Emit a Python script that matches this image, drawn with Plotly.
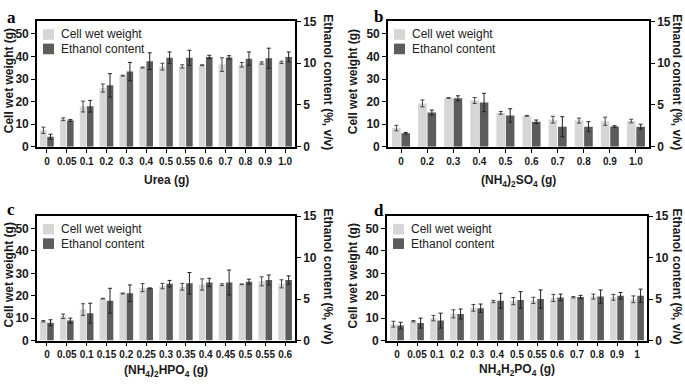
import plotly.graph_objects as go

# ---------------- data ----------------
cats_a = ["0", "0.05", "0.1", "0.2", "0.3", "0.4", "0.5", "0.55", "0.6", "0.7", "0.8", "0.9", "1.0"]
cell_a = [7.3, 12.2, 17.8, 26.0, 31.5, 35.1, 35.5, 35.6, 36.1, 36.4, 36.3, 37.1, 37.4]
cell_a_err = [1.4, 0.6, 2.4, 1.8, 0.2, 0.2, 1.5, 0.7, 0.2, 3.0, 1.0, 0.5, 0.5]
eth_a = [1.2, 3.15, 4.85, 7.35, 9.0, 10.25, 10.65, 10.65, 10.75, 10.7, 10.55, 10.6, 10.75]
eth_a_err = [0.3, 0.1, 0.7, 1.4, 1.1, 1.0, 0.7, 0.9, 0.2, 0.2, 0.8, 1.2, 0.6]

cats_b = ["0", "0.2", "0.3", "0.4", "0.5", "0.6", "0.7", "0.8", "0.9", "1.0"]
cell_b = [8.3, 19.2, 21.6, 20.5, 15.0, 13.7, 12.0, 11.6, 11.3, 11.4]
cell_b_err = [1.2, 1.5, 0.15, 1.3, 0.6, 0.2, 1.5, 1.1, 1.8, 0.8]
eth_b = [1.62, 4.1, 5.8, 5.3, 3.75, 3.0, 2.4, 2.4, 2.42, 2.4]
eth_b_err = [0.1, 0.3, 0.3, 1.1, 0.8, 0.2, 1.2, 0.6, 0.1, 0.3]

cats_c = ["0", "0.05", "0.1", "0.15", "0.2", "0.25", "0.3", "0.35", "0.4", "0.45", "0.5", "0.55", "0.6"]
cell_c = [8.6, 10.8, 13.8, 18.7, 21.0, 23.6, 24.3, 24.0, 25.0, 24.9, 25.1, 26.4, 25.3]
cell_c_err = [0.3, 1.0, 2.6, 0.15, 0.2, 1.8, 1.2, 1.5, 2.5, 0.4, 0.15, 2.0, 1.8]
eth_c = [2.15, 2.4, 3.3, 4.8, 5.7, 6.3, 6.85, 6.9, 7.0, 7.0, 7.1, 7.3, 7.3]
eth_c_err = [0.35, 0.3, 1.2, 1.5, 1.0, 0.05, 0.4, 1.3, 0.5, 1.5, 0.3, 0.6, 0.5]

cats_d = ["0", "0.05", "0.1", "0.2", "0.3", "0.4", "0.5", "0.55", "0.6", "0.7", "0.8", "0.9", "1"]
cell_d = [7.3, 8.6, 10.0, 11.9, 14.6, 17.4, 17.6, 17.9, 19.0, 19.3, 19.6, 19.3, 18.4]
cell_d_err = [1.3, 0.3, 1.2, 1.8, 1.5, 0.5, 1.6, 1.4, 1.6, 0.3, 1.1, 1.3, 1.5]
eth_d = [1.8, 2.1, 2.4, 3.2, 3.9, 4.8, 4.9, 5.0, 5.2, 5.25, 5.3, 5.4, 5.4]
eth_d_err = [0.4, 0.6, 0.9, 0.6, 0.5, 0.9, 1.0, 1.1, 0.4, 0.2, 0.8, 0.4, 0.8]

x_titles = ["Urea (g)",
            "(NH<sub>4</sub>)<sub>2</sub>SO<sub>4</sub> (g)",
            "(NH<sub>4</sub>)<sub>2</sub>HPO<sub>4</sub> (g)",
            "NH<sub>4</sub>H<sub>2</sub>PO<sub>4</sub> (g)"]
panel_letters = ["a", "b", "c", "d"]
left_title = "Cell wet weight (g)"
right_title = "Ethanol content (%, v/v)"
legend_names = ["Cell wet weight", "Ethanol content"]

# ---------------- style ----------------
W, H = 685, 388
LIGHT = "#d6d6d6"
DARK = "#5c5c5c"
FONT = "Liberation Sans, Arial, sans-serif"
TXT = "#1a1a1a"

# panel boxes in pixels: (x0, x1, ytop, ybottom)
boxes = [(37, 295, 15, 145), (388, 649, 15, 145), (37, 295, 217, 346), (387, 647, 217, 346)]
xtitle_y = [179, 180, 378, 377]
ltitle_x = [9, 353, 9, 353]
rtitle_x = [328, 677, 328, 677]
letter_pos = [(11, 11), (378, 10), (11, 210), (379, 211)]

def px(x):
    return x / W

def py(y):
    return 1 - y / H

panels = [
    (cats_a, cell_a, cell_a_err, eth_a, eth_a_err),
    (cats_b, cell_b, cell_b_err, eth_b, eth_b_err),
    (cats_c, cell_c, cell_c_err, eth_c, eth_c_err),
    (cats_d, cell_d, cell_d_err, eth_d, eth_d_err),
]

fig = go.Figure()
layout = dict(width=W, height=H, autosize=False, margin=dict(l=0, r=0, t=0, b=0),
              paper_bgcolor="white", plot_bgcolor="white", showlegend=False,
              font=dict(family=FONT, color=TXT))
annotations = []
shapes = []

tickfont_b = dict(size=12, family=FONT, color=TXT, weight=700)

for i, (cats, cell, cell_err, eth, eth_err) in enumerate(panels):
    k = i + 1
    xa = "x" if k == 1 else f"x{k}"
    ya = f"y{2 * k - 1}" if k > 1 else "y"
    yb = f"y{2 * k}"
    x0, x1, yt, ybt = boxes[i]

    fig.add_trace(go.Bar(
        x=cats, y=cell, name=legend_names[0], xaxis=xa, yaxis=ya,
        marker=dict(color=LIGHT, line=dict(width=0)),
        width=0.33, offset=-0.345,
        error_y=dict(type="data", array=cell_err, visible=True, color="#444", thickness=1, width=2)))
    fig.add_trace(go.Bar(
        x=cats, y=eth, name=legend_names[1], xaxis=xa, yaxis=yb,
        marker=dict(color=DARK, line=dict(width=0)),
        width=0.33, offset=0.015,
        error_y=dict(type="data", array=eth_err, visible=True, color="#222", thickness=1, width=2)))

    xkey = "xaxis" if k == 1 else f"xaxis{k}"
    yakey = "yaxis" if k == 1 else f"yaxis{2 * k - 1}"
    ybkey = f"yaxis{2 * k}"
    layout[xkey] = dict(
        domain=[px(x0), px(x1)], anchor=ya, type="category",
        range=[-0.5, len(cats) - 0.5], showline=True, linecolor="black", linewidth=1.6,
        mirror=True, ticks="outside", ticklen=4, tickwidth=1.4, tickcolor="black",
        tickangle=0, tickfont=dict(size=10, family=FONT, color=TXT, weight=700),
        showgrid=False)
    layout[yakey] = dict(
        domain=[py(ybt), py(yt)], anchor=xa, range=[0, 55.5],
        tickvals=[0, 10, 20, 30, 40, 50], showline=True, linecolor="black", linewidth=1.6,
        ticks="outside", ticklen=4, tickwidth=1.4, tickcolor="black",
        tickfont=tickfont_b, showgrid=False, zeroline=False)
    layout[ybkey] = dict(
        overlaying=ya, side="right", anchor=xa, range=[0, 15],
        tickvals=[0, 5, 10, 15], showline=True, linecolor="black", linewidth=1.6,
        ticks="outside", ticklen=4, tickwidth=1.4, tickcolor="black",
        tickfont=tickfont_b, showgrid=False, zeroline=False)

    # legend (swatches + labels)
    for j, (name, col) in enumerate(zip(legend_names, [LIGHT, DARK])):
        sy = yt + 8 + 15 * j
        shapes.append(dict(type="rect", xref="paper", yref="paper",
                           x0=px(x0 + 6), x1=px(x0 + 17), y0=py(sy + 11), y1=py(sy),
                           fillcolor=col, line=dict(width=0)))
        annotations.append(dict(
            text=name, x=px(x0 + 22), y=py(sy + 5.5), xref="paper", yref="paper",
            showarrow=False, xanchor="left", yanchor="middle",
            font=dict(size=12, family=FONT, color="#222")))

    # titles
    annotations.append(dict(
        text=left_title, x=px(ltitle_x[i]), y=py((yt + ybt) / 2 - 3),
        xref="paper", yref="paper", showarrow=False, textangle=-90,
        font=dict(size=12, family=FONT, color=TXT, weight=700), xanchor="center", yanchor="middle"))
    annotations.append(dict(
        text=right_title, x=px(rtitle_x[i]), y=py((yt + ybt) / 2 - 2),
        xref="paper", yref="paper", showarrow=False, textangle=90,
        font=dict(size=12, family=FONT, color=TXT, weight=700), xanchor="center", yanchor="middle"))
    annotations.append(dict(
        text=x_titles[i], x=px((x0 + x1) / 2), y=py(xtitle_y[i]),
        xref="paper", yref="paper", showarrow=False,
        font=dict(size=12, family=FONT, color=TXT, weight=700), xanchor="center", yanchor="middle"))
    lx, ly = letter_pos[i]
    annotations.append(dict(
        text=panel_letters[i], x=px(lx), y=py(ly),
        xref="paper", yref="paper", showarrow=False,
        font=dict(size=17, family="Liberation Serif, Times New Roman, serif", color="black", weight=700),
        xanchor="center", yanchor="middle"))

layout["annotations"] = annotations
layout["shapes"] = shapes
fig.update_layout(**layout)
fig.write_html("out.html", config={"displayModeBar": False},
               post_script="document.body.style.margin='0';document.body.style.overflow='hidden';")
